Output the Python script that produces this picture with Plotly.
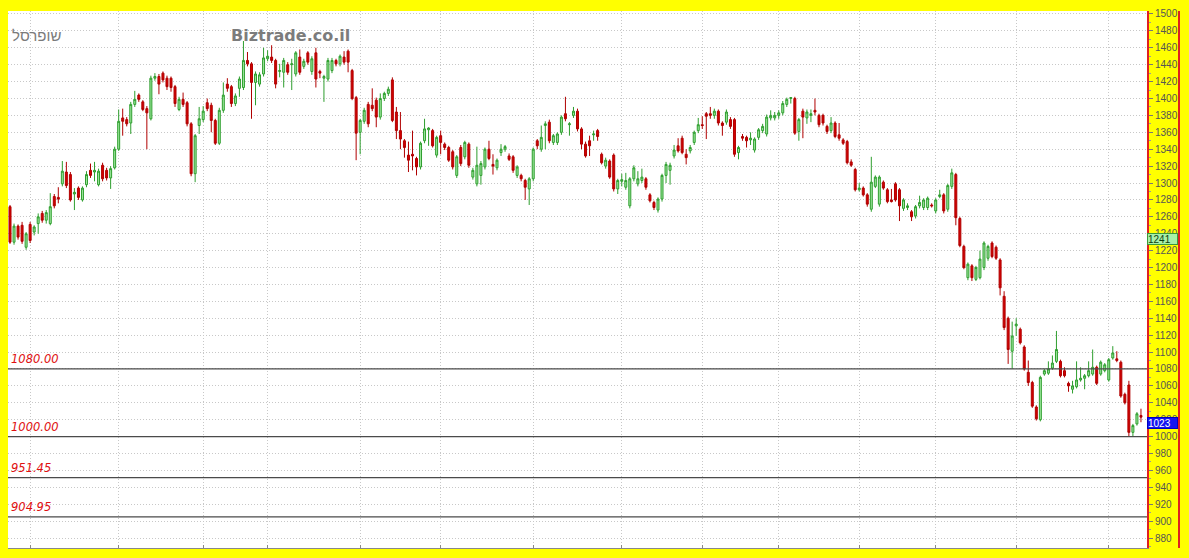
import plotly.graph_objects as go

opens = [1272,1230,1249,1250,1224,1251,1242,1252,1264,1256,
 1252,1284,1283,1299,1313,1310,1287,1294,1280,1298,
 1315,1313,1298,1321,1315,1306,1318,1340,1377,1375,
 1371,1393,1404,1396,1388,1376,1424,1426,1430,1424,
 1424,1414,1387,1399,1395,1370,1311,1368,1375,1395,
 1392,1374,1347,1386,1417,1414,1394,1412,1413,1445,
 1441,1419,1417,1429,1447,1449,1445,1432,1431,1440,
 1440,1429,1449,1438,1454,1432,1454,1432,1424,1423,
 1433,1445,1441,1449,1456,1433,1401,1360,1373,1393,
 1392,1398,1378,1400,1406,1422,1384,1362,1350,1333,
 1334,1329,1319,1350,1363,1362,1333,1356,1346,1342,
 1337,1309,1342,1331,1346,1307,1299,1309,1319,1340,
 1322,1318,1336,1340,1332,1331,1309,1309,1303,1293,
 1305,1350,1340,1368,1372,1348,1348,1360,1382,1369,
 1380,1385,1364,1346,1350,1357,1362,1334,1320,1326,
 1333,1293,1302,1295,1273,1305,1299,1303,1305,1286,
 1277,1268,1281,1309,1315,1332,1344,1353,1334,1338,
 1348,1362,1369,1382,1382,1380,1385,1371,1372,1375,
 1375,1336,1355,1354,1351,1339,1354,1362,1358,1377,
 1377,1380,1383,1393,1400,1400,1361,1385,1377,1380,
 1386,1380,1380,1367,1362,1371,1357,1351,1349,1325,
 1316,1292,1294,1286,1269,1296,1275,1301,1292,1280,
 1299,1292,1270,1271,1266,1261,1273,1271,1271,1274,
 1267,1284,1286,1269,1296,1310,1258,1225,1188,1202,
 1186,1188,1200,1211,1229,1224,1209,1166,1140,1101,
 1131,1127,1106,1076,1064,1035,1020,1074,1075,1081,
 1089,1089,1078,1063,1056,1059,1067,1069,1072,1074,
 1082,1074,1078,1067,1093,1092,1088,1050,1061,1005,
 1015,1025]

highs = [1274,1252,1251,1254,1242,1254,1250,1264,1267,1268,
 1288,1287,1295,1326,1325,1313,1294,1296,1296,1314,
 1323,1325,1317,1324,1318,1320,1343,1387,1388,1378,
 1396,1409,1406,1398,1391,1427,1430,1429,1432,1427,
 1426,1416,1402,1407,1397,1372,1358,1390,1391,1400,
 1395,1376,1389,1419,1424,1416,1406,1426,1468,1455,
 1443,1432,1431,1460,1457,1463,1447,1441,1448,1443,
 1447,1456,1458,1447,1456,1450,1460,1434,1428,1448,
 1448,1447,1452,1456,1458,1435,1403,1376,1389,1396,
 1412,1401,1406,1408,1414,1425,1390,1384,1352,1349,
 1362,1331,1349,1376,1366,1364,1356,1362,1348,1344,
 1339,1333,1345,1350,1348,1318,1343,1326,1342,1350,
 1334,1329,1346,1345,1335,1333,1321,1311,1305,1307,
 1342,1352,1368,1373,1375,1358,1360,1380,1402,1372,
 1390,1388,1366,1349,1356,1362,1364,1336,1330,1328,
 1335,1305,1311,1312,1307,1321,1314,1317,1307,1288,
 1279,1283,1311,1325,1324,1345,1353,1356,1340,1345,
 1362,1377,1379,1384,1390,1388,1387,1373,1387,1378,
 1377,1344,1358,1356,1360,1354,1365,1370,1381,1386,
 1384,1386,1397,1401,1401,1402,1377,1388,1387,1387,
 1400,1382,1382,1369,1378,1373,1371,1353,1351,1328,
 1318,1300,1296,1288,1331,1309,1309,1303,1294,1293,
 1301,1294,1282,1276,1268,1274,1285,1282,1284,1276,
 1282,1292,1288,1299,1317,1312,1260,1227,1206,1204,
 1202,1220,1231,1227,1231,1226,1211,1172,1142,1136,
 1140,1129,1108,1090,1066,1037,1072,1080,1089,1096,
 1125,1091,1082,1065,1066,1089,1082,1074,1089,1103,
 1084,1090,1087,1093,1107,1101,1090,1052,1066,1015,
 1029,1033]

lows = [1228,1227,1233,1228,1221,1229,1238,1240,1253,1252,
 1250,1270,1276,1296,1294,1278,1268,1280,1278,1295,
 1306,1302,1296,1302,1303,1293,1316,1338,1356,1367,
 1358,1390,1396,1385,1340,1374,1421,1405,1419,1410,
 1408,1390,1385,1390,1367,1308,1301,1358,1372,1385,
 1360,1345,1345,1383,1408,1390,1391,1402,1410,1438,
 1376,1392,1414,1426,1444,1442,1412,1425,1413,1428,
 1410,1426,1428,1435,1440,1428,1413,1424,1396,1420,
 1430,1438,1438,1440,1431,1398,1327,1334,1370,1366,
 1385,1366,1375,1397,1403,1372,1352,1340,1330,1313,
 1315,1309,1316,1347,1344,1342,1330,1334,1339,1325,
 1316,1306,1320,1328,1318,1304,1296,1298,1316,1327,
 1310,1315,1332,1337,1326,1312,1306,1302,1280,1274,
 1302,1340,1337,1340,1347,1345,1345,1357,1373,1356,
 1377,1361,1340,1330,1332,1350,1350,1322,1317,1305,
 1290,1287,1296,1292,1270,1302,1296,1300,1292,1277,
 1268,1265,1278,1300,1298,1329,1336,1334,1322,1335,
 1345,1359,1364,1352,1376,1376,1368,1356,1369,1364,
 1331,1328,1350,1342,1345,1336,1351,1359,1355,1374,
 1374,1376,1380,1390,1394,1357,1350,1353,1370,1372,
 1380,1366,1368,1358,1359,1353,1350,1345,1322,1319,
 1290,1290,1284,1272,1266,1294,1272,1292,1276,1277,
 1278,1255,1267,1268,1255,1258,1270,1268,1268,1271,
 1264,1282,1264,1266,1293,1250,1224,1198,1185,1184,
 1184,1186,1197,1208,1211,1209,1167,1126,1086,1080,
 1119,1109,1078,1060,1034,1019,1018,1072,1073,1079,
 1087,1070,1070,1053,1051,1057,1065,1056,1070,1072,
 1061,1072,1076,1065,1091,1088,1046,1038,1000,1000,
 1013,1017]

closes = [1230,1249,1236,1231,1240,1232,1248,1260,1256,1265,
 1272,1273,1281,1314,1297,1280,1289,1283,1294,1310,
 1309,1315,1314,1305,1306,1317,1340,1373,1373,1370,
 1393,1399,1399,1387,1383,1424,1426,1417,1422,1414,
 1413,1394,1399,1393,1370,1311,1356,1376,1385,1388,
 1374,1347,1386,1404,1412,1394,1403,1423,1445,1441,
 1419,1429,1428,1448,1450,1445,1417,1433,1445,1431,
 1441,1454,1431,1444,1443,1447,1423,1430,1426,1445,
 1445,1441,1450,1443,1443,1400,1359,1374,1386,1370,
 1388,1378,1400,1406,1411,1374,1362,1352,1342,1327,
 1332,1319,1347,1364,1365,1344,1354,1348,1342,1327,
 1319,1331,1323,1348,1321,1315,1321,1323,1340,1329,
 1320,1327,1340,1343,1328,1315,1319,1305,1295,1305,
 1340,1344,1354,1370,1350,1356,1358,1378,1376,1370,
 1385,1364,1346,1332,1344,1358,1355,1324,1327,1307,
 1293,1303,1304,1303,1305,1318,1305,1307,1295,1279,
 1271,1281,1309,1322,1321,1339,1338,1336,1330,1342,
 1360,1369,1368,1379,1380,1385,1371,1368,1384,1367,
 1334,1342,1353,1350,1353,1352,1363,1367,1378,1380,
 1380,1383,1394,1399,1401,1359,1375,1378,1384,1382,
 1384,1369,1371,1361,1371,1355,1353,1347,1324,1321,
 1292,1294,1286,1275,1301,1307,1307,1294,1278,1278,
 1280,1273,1280,1273,1260,1272,1277,1280,1282,1273,
 1280,1286,1267,1297,1312,1259,1226,1200,1204,1188,
 1200,1210,1229,1225,1213,1211,1176,1129,1103,1119,
 1133,1111,1080,1064,1036,1021,1070,1078,1080,1087,
 1103,1072,1072,1060,1060,1067,1069,1072,1078,1082,
 1063,1088,1085,1091,1099,1090,1048,1040,1005,1013,
 1027,1023]

month_ticks = [5, 27, 48, 64, 87, 107, 130, 152, 172, 191, 211, 230, 250, 273]
level_values = [1080.00, 1000.00, 951.45, 904.95]
level_labels = ["1080.00", "1000.00", "951.45", "904.95"]
marker_values = [1241, 1023]
marker_labels = ["1241", "1023"]
y_ticks = list(range(880, 1501, 20))

idx = list(range(len(closes)))

fig = go.Figure()
fig.add_trace(go.Candlestick(
    x=idx, open=opens, high=highs, low=lows, close=closes,
    increasing=dict(line=dict(color="#2e9e2e", width=1), fillcolor="#9fe89f"),
    decreasing=dict(line=dict(color="#b00000", width=1), fillcolor="#d40000"),
    whiskerwidth=0, showlegend=False, hoverinfo="skip",
))

W, H = 1189, 558
ml, mr, mt, mb = 8, 42, 8, 10
pw = W - ml - mr
ph = H - mt - mb

for v in level_values:
    fig.add_shape(type="line", xref="paper", x0=0, x1=1, y0=v, y1=v, yref="y",
                  line=dict(color="#4a4a4a", width=1.2), layer="above")
for v, t in zip(level_values, level_labels):
    fig.add_annotation(x=0.001, xref="paper", y=v, yref="y", text="<i>" + t + "</i>",
                       showarrow=False, xanchor="left", yanchor="bottom", yshift=1,
                       font=dict(family="DejaVu Sans", size=11.5, color="#e01010"))

# right border line of axis area
xr = (1179 - ml) / pw
fig.add_shape(type="line", xref="paper", yref="paper", x0=xr, x1=xr, y0=0, y1=1,
              line=dict(color="#e02020", width=2))

box_styles = [dict(bg="#a8f0a8", border="#3a9a3a", fc="#104010"),
              dict(bg="#1414f0", border="#0000c0", fc="#ffffff")]
for v, t, s in zip(marker_values, marker_labels, box_styles):
    fig.add_annotation(x=1.0, xref="paper", y=v, yref="y", text=t, showarrow=False,
                       xanchor="left", yanchor="top", align="left", width=29, height=10,
                       bgcolor=s["bg"], bordercolor=s["border"], borderwidth=1, borderpad=0,
                       font=dict(family="Liberation Sans", size=10, color=s["fc"]))

fig.add_annotation(x=(10 - ml) / pw, xref="paper", y=(H - mb - 33) / ph, yref="paper",
                   text="שופרסל", showarrow=False, xanchor="left", yanchor="middle",
                   font=dict(family="Liberation Sans", size=15, color="#7a7a7a"))
fig.add_annotation(x=(290 - ml) / pw, xref="paper", y=(H - mb - 33) / ph, yref="paper",
                   text="<b>Biztrade.co.il</b>", showarrow=False, xanchor="center", yanchor="middle",
                   font=dict(family="DejaVu Sans", size=16, color="#7c7c7c"))

fig.update_layout(
    width=W, height=H,
    margin=dict(l=ml, r=mr, t=mt, b=mb),
    paper_bgcolor="#ffff00", plot_bgcolor="#ffffff",
    showlegend=False,
    xaxis=dict(range=[-0.5, 282.5], rangeslider=dict(visible=False), tickvals=month_ticks,
               showticklabels=False, showgrid=True, gridcolor="#c8c8c8", griddash="1px,2px",
               gridwidth=1, zeroline=False, showline=True, linecolor="#888888", linewidth=1,
               ticks="inside", ticklen=3, tickcolor="#888888", fixedrange=True),
    yaxis=dict(range=[868.2, 1503.5], side="right", tickvals=y_ticks,
               ticktext=[str(v) for v in y_ticks], showgrid=True, gridcolor="#c8c8c8",
               griddash="1px,2px", gridwidth=1, zeroline=False, showline=True,
               linecolor="#e02020", linewidth=2, ticks="outside", ticklen=4,
               tickcolor="#777777", tickfont=dict(family="Liberation Sans", size=10, color="#555555"),
               minor=dict(ticks="outside", ticklen=2, dtick=10, tickcolor="#999999", showgrid=False),
               fixedrange=True),
)

fig.write_html("out.html", config={"displayModeBar": False},
               post_script="document.body.style.margin='0';document.body.style.background='#ffff00';")
